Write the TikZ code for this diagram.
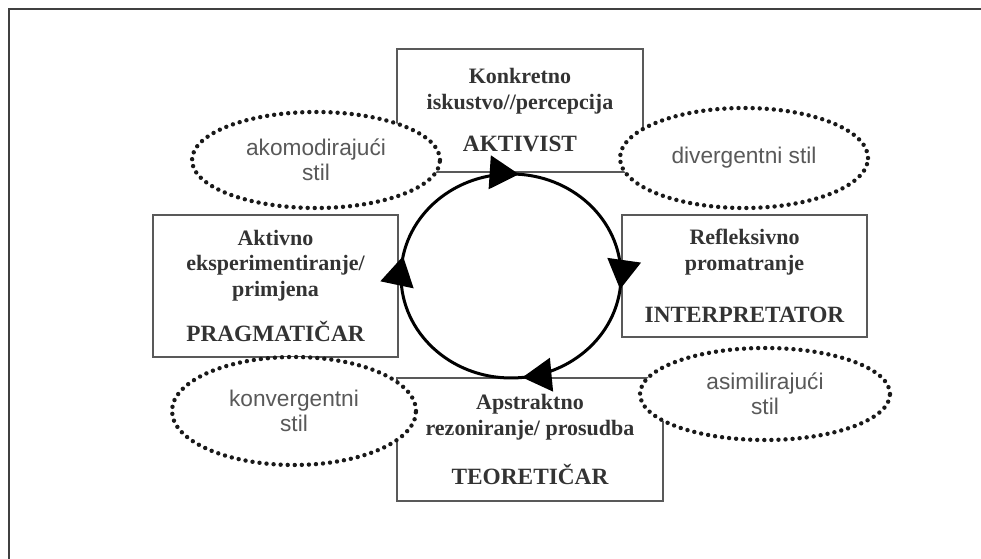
\documentclass[tikz,border=0pt]{standalone}
\usepackage{fontspec}
\setmainfont{Liberation Serif}
\setsansfont{Liberation Sans}
\usetikzlibrary{shapes.geometric,arrows.meta,decorations.markings}

\tikzset{cycletip/.tip={Triangle[length=22pt,width=25pt]}}
\newcommand\rolefont{\fontsize{17.5}{19}\selectfont}

\begin{document}
\begin{tikzpicture}[x=0.75pt,y=0.75pt,
  box/.style={draw=black!65,line width=0.9pt,rectangle,inner sep=0pt,align=center,
    text=black!80,font=\bfseries\fontsize{16.5}{19}\selectfont},
  stil/.style={ellipse,draw=black!90,fill=white,line width=3.3pt,
    dash pattern=on 0pt off 5.3pt,line cap=round,inner sep=0pt,align=center,
    text=black!65,font=\sffamily\fontsize{17}{19}\selectfont}]
  \useasboundingbox (0,0) rectangle (981,559);
  % outer frame (only top and left edge are seen)
  \draw[black!75,line width=1.5pt] (9,0) -- (9,550) -- (981,550);

  % the four learning phases
  \node[box,minimum width=184.5pt,minimum height=92.25pt] (aktivist) at (520,448.5)
    {Konkretno\\iskustvo//percepcija\\[13pt]\rolefont AKTIVIST};
  \node[box,minimum width=183.75pt,minimum height=91.5pt] (interpretator) at (744.5,283)
    {Refleksivno\\promatranje\\[20pt]\rolefont INTERPRETATOR};
  \node[box,minimum width=183.75pt,minimum height=106.5pt] (pragmaticar) at (275.5,273)
    {Aktivno\\eksperimentiranje/\\primjena\\[15pt]\rolefont PRAGMATIČAR};
  \node[box,minimum width=199.5pt,minimum height=92.25pt] (teoreticar) at (530,119.5)
    {Apstraktno\\rezoniranje/ prosudba\\[18pt]\rolefont TEORETIČAR};

  % the cycle, clockwise from the top
  \draw[line width=2.25pt,postaction={decorate},decoration={markings,
      mark=at position 0.012 with {\arrow{cycletip}},
      mark=at position 0.27 with {\arrow{cycletip}},
      mark=at position 0.483 with {\arrow{cycletip}},
      mark=at position 0.78 with {\arrow{cycletip}}}]
    (511,385) arc[start angle=90,end angle=-270,x radius=82.5pt,y radius=76.5pt];

  % styles between the phases
  \node[stil,minimum width=186pt,minimum height=72pt] (akomodirajuci) at (316,399)
    {akomodirajući\\stil};
  \node[stil,minimum width=186pt,minimum height=75pt] (divergentni) at (744,401)
    {divergentni stil};
  \node[stil,minimum width=183pt,minimum height=81pt] (konvergentni) at (294,148)
    {konvergentni\\stil};
  \node[stil,minimum width=187.5pt,minimum height=69pt] (asimilirajuci) at (765,165)
    {asimilirajući\\stil};
\end{tikzpicture}
\end{document}
